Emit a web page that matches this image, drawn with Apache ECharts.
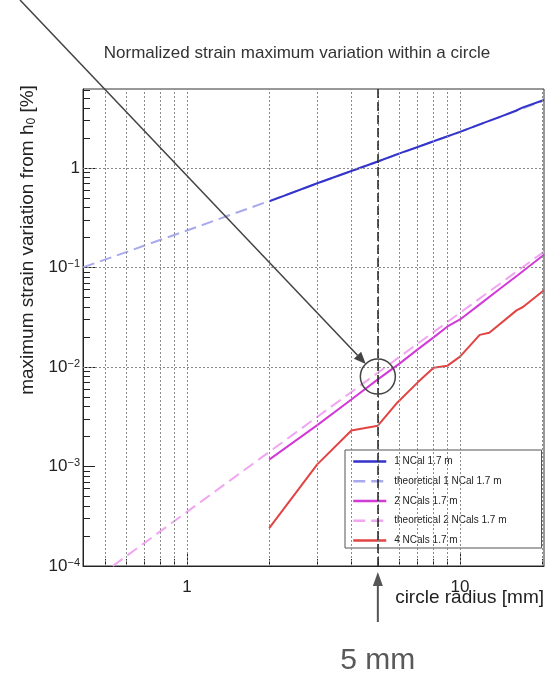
<!DOCTYPE html>
<html>
<head>
<meta charset="utf-8">
<script src="https://cdn.jsdelivr.net/npm/echarts@6/dist/echarts.min.js"></script>
<style>
html,body{margin:0;padding:0;background:#fff;}
#chart{width:546px;height:675px;}
</style>
</head>
<body>
<div id="chart"></div>
<script>
// circle radius [mm] and maximum strain variation [%]
var rNCal1 = [2, 3, 4, 5, 6, 7, 8, 10, 12, 14, 16, 17, 20.3];
var vNCal1 = [0.46, 0.70, 0.93, 1.16, 1.40, 1.62, 1.85, 2.30, 2.78, 3.25, 3.75, 4.05, 4.8];

var rTheo1 = [0.416, 1, 2, 5, 10, 20.3];
var vTheo1 = [0.1, 0.235, 0.465, 1.16, 2.3, 4.75];

var rNCal2 = [2, 3, 4, 5, 6, 7, 8, 9, 10, 12, 14, 16.3, 20.3];
var vNCal2 = [0.00117, 0.0026, 0.0047, 0.0075, 0.0108, 0.015, 0.0198, 0.0255, 0.030, 0.044, 0.061, 0.084, 0.134];

var rTheo2 = [0.535, 1, 2, 5, 10, 20.3];
var vTheo2 = [0.0001, 0.00035, 0.0014, 0.00875, 0.035, 0.144];

var rNCal4 = [2, 3, 4, 5, 5.9, 7, 8, 9, 10, 11.8, 12.8, 16.1, 17, 20.3];
var vNCal4 = [0.00024, 0.00105, 0.0023, 0.00257, 0.0044, 0.0070, 0.0098, 0.0103, 0.0127, 0.021, 0.022, 0.037, 0.040, 0.059];

// axis ticks
var xMajor = [1, 10];
var xMinor = [0.5, 0.6, 0.7, 0.8, 0.9, 2, 3, 4, 5, 6, 7, 8, 9, 20];
var yMajor = [0.0001, 0.001, 0.01, 0.1, 1];
var yMinor = [];
yMajor.forEach(function (d) {
	for (var k = 2; k <= 9; k++) {
		if (d * k < 6.2) yMinor.push(d * k);
	}
});

var markRadius = 5;      // vertical dashed line [mm]
var circleStrain = 0.008; // where the circle is drawn on the 2 NCals curve

var font = '"Liberation Sans", Arial, sans-serif';

function pairs(xs, ys) {
	return xs.map(function (x, i) { return [x, ys[i]]; });
}
function powLabel(v) {
	var e = Math.round(Math.log10(v));
	if (e === 0) return '1';
	if (e === 1) return '10';
	return '10{sup|' + (e < 0 ? '\u2212' : '') + Math.abs(e) + '}';
}

var myChart = echarts.init(document.getElementById('chart'));

var xBase = { type: 'log', min: 0.416, max: 20.3, gridIndex: 0, position: 'bottom' };
var yBase = { type: 'log', min: 0.0001, max: 6.2, gridIndex: 0, position: 'left' };

option = {
	animation: false,
	backgroundColor: '#fff',
	textStyle: { fontFamily: font },
	title: {
		text: 'Normalized strain maximum variation within a circle',
		left: 292,
		textAlign: 'center',
		top: 40,
		textStyle: { fontSize: 17, fontWeight: 'normal', color: '#333', fontFamily: font }
	},
	grid: {
		left: 83, right: 2, top: 89, bottom: 109,
		containLabel: false,
		outerBoundsMode: 'none',
		show: true,
		borderColor: '#333',
		borderWidth: 1,
		backgroundColor: '#fff'
	},
	legend: {
		orient: 'vertical',
		left: 345,
		top: 450,
		padding: [6, 35, 2, 7],
		itemWidth: 33,
		itemHeight: 14,
		itemGap: 8.5,
		backgroundColor: '#fff',
		borderColor: '#555',
		borderWidth: 1,
		borderRadius: 0,
		itemStyle: { opacity: 0 },
		lineStyle: { width: 2.5 },
		textStyle: { fontSize: 10, color: '#222', fontFamily: font, padding: [0, 0, 0, 3] },
		data: ['1 NCal 1.7 m', 'theoretical 1 NCal 1.7 m', '2 NCals 1.7 m', 'theoretical 2 NCals 1.7 m', '4 NCals 1.7 m']
	},
	xAxis: [
		Object.assign({}, xBase, {
			axisLine: { show: true, lineStyle: { color: '#222', width: 1 } },
			axisTick: { show: true, inside: true, length: 14, customValues: xMajor, lineStyle: { color: '#222' } },
			axisLabel: { customValues: xMajor, formatter: powLabel, fontSize: 17, color: '#222', margin: 13, fontFamily: font },
			splitLine: { show: false }
		}),
		Object.assign({}, xBase, {
			axisLine: { show: false },
			axisTick: { show: true, inside: true, length: 7, customValues: xMinor, lineStyle: { color: '#222' } },
			axisLabel: { show: false },
			splitLine: { show: false }
		})
	],
	yAxis: [
		Object.assign({}, yBase, {
			axisLine: { show: true, lineStyle: { color: '#222', width: 1 } },
			axisTick: { show: true, inside: true, length: 12, customValues: yMajor, lineStyle: { color: '#222' } },
			axisLabel: {
				customValues: yMajor, formatter: powLabel, fontSize: 17, color: '#222', margin: 3, fontFamily: font,
				rich: { sup: { fontSize: 11, verticalAlign: 'top', lineHeight: 12, color: '#222', fontFamily: font } }
			},
			splitLine: { show: false }
		}),
		Object.assign({}, yBase, {
			axisLine: { show: false },
			axisTick: { show: true, inside: true, length: 7, customValues: yMinor, lineStyle: { color: '#222' } },
			axisLabel: { show: false },
			splitLine: { show: false }
		})
	],
	series: [
		{
			// dotted grid
			name: 'grid', type: 'line', data: [], silent: true,
			markLine: {
				silent: true, symbol: ['none', 'none'], label: { show: false },
				lineStyle: { color: '#8a8a8a', type: [2, 2], width: 1 },
				data: xMinor.concat(xMajor).map(function (v) { return { xAxis: v }; })
					.concat(yMajor.map(function (v) { return { yAxis: v }; }))
			}
		},
		{
			name: 'theoretical 1 NCal 1.7 m', type: 'line', symbol: 'none',
			lineStyle: { color: '#a9a9ee', width: 2, type: [12, 6] }, itemStyle: { color: '#a9a9ee' },
			data: pairs(rTheo1, vTheo1)
		},
		{
			name: 'theoretical 2 NCals 1.7 m', type: 'line', symbol: 'none',
			lineStyle: { color: '#f0a6f0', width: 2, type: [12, 6] }, itemStyle: { color: '#f0a6f0' },
			data: pairs(rTheo2, vTheo2)
		},
		{
			name: '1 NCal 1.7 m', type: 'line', symbol: 'none',
			lineStyle: { color: '#3333cc', width: 2 }, itemStyle: { color: '#3333cc' },
			data: pairs(rNCal1, vNCal1)
		},
		{
			name: '2 NCals 1.7 m', type: 'line', symbol: 'none',
			lineStyle: { color: '#d23ad6', width: 2 }, itemStyle: { color: '#d23ad6' },
			data: pairs(rNCal2, vNCal2)
		},
		{
			name: '4 NCals 1.7 m', type: 'line', symbol: 'none',
			lineStyle: { color: '#e24444', width: 2 }, itemStyle: { color: '#e24444' },
			data: pairs(rNCal4, vNCal4)
		},
		{
			// 5 mm marker, above the legend
			name: 'marker', type: 'line', data: [], silent: true, z: 10,
			markLine: {
				silent: true, symbol: ['none', 'none'], label: { show: false },
				lineStyle: { color: '#222', type: [9, 4], width: 1.5 },
				data: [{ xAxis: markRadius }]
			}
		}
	]
};

myChart.setOption(option);

// annotations: circle, arrows and "5 mm"
var c = myChart.convertToPixel({ xAxisIndex: 0, yAxisIndex: 0 }, [markRadius, circleStrain]);
var R = 17.5;
var start = [20, 0];
var dx = start[0] - c[0], dy = start[1] - c[1];
var len = Math.sqrt(dx * dx + dy * dy);
var ux = dx / len, uy = dy / len;
var tip = [c[0] + ux * R, c[1] + uy * R];
var hl = 12, hw = 5;
var base = [tip[0] + ux * hl, tip[1] + uy * hl];
var head = [tip, [base[0] - uy * hw, base[1] + ux * hw], [base[0] + uy * hw, base[1] - ux * hw]];

var ax = c[0];
myChart.setOption({
	graphic: [
		{ type: 'circle', z: 100, shape: { cx: c[0], cy: c[1], r: R }, style: { fill: 'none', stroke: '#444', lineWidth: 1.5 } },
		{ type: 'line', z: 100, shape: { x1: start[0], y1: start[1], x2: base[0], y2: base[1] }, style: { stroke: '#444', lineWidth: 1.5 } },
		{ type: 'polygon', z: 100, shape: { points: head }, style: { fill: '#444' } },
		{ type: 'line', z: 100, shape: { x1: ax, y1: 622, x2: ax, y2: 584 }, style: { stroke: '#555', lineWidth: 2 } },
		{ type: 'polygon', z: 100, shape: { points: [[ax, 572], [ax - 5, 586], [ax + 5, 586]] }, style: { fill: '#555' } },
		{ type: 'text', z: 100, x: ax, y: 661, style: { text: '5 mm', fontSize: 30, fill: '#595959', align: 'center', verticalAlign: 'middle', fontFamily: font } },
		{ type: 'text', z: 100, x: 544, y: 598, style: { text: 'circle radius [mm]', fontSize: 19, fill: '#222', align: 'right', verticalAlign: 'middle', fontFamily: font } },
		{
			type: 'text', z: 100, x: 28, y: 240, rotation: Math.PI / 2,
			style: {
				text: 'maximum strain variation from h{sub|0} [%]', fontSize: 19, fill: '#222',
				align: 'center', verticalAlign: 'middle', fontFamily: font,
				rich: { sub: { fontSize: 12, verticalAlign: 'bottom', fill: '#222', fontFamily: font } }
			}
		}
	]
});

window.addEventListener('resize', function () {
	myChart.resize();
});
</script>
</body>
</html>
